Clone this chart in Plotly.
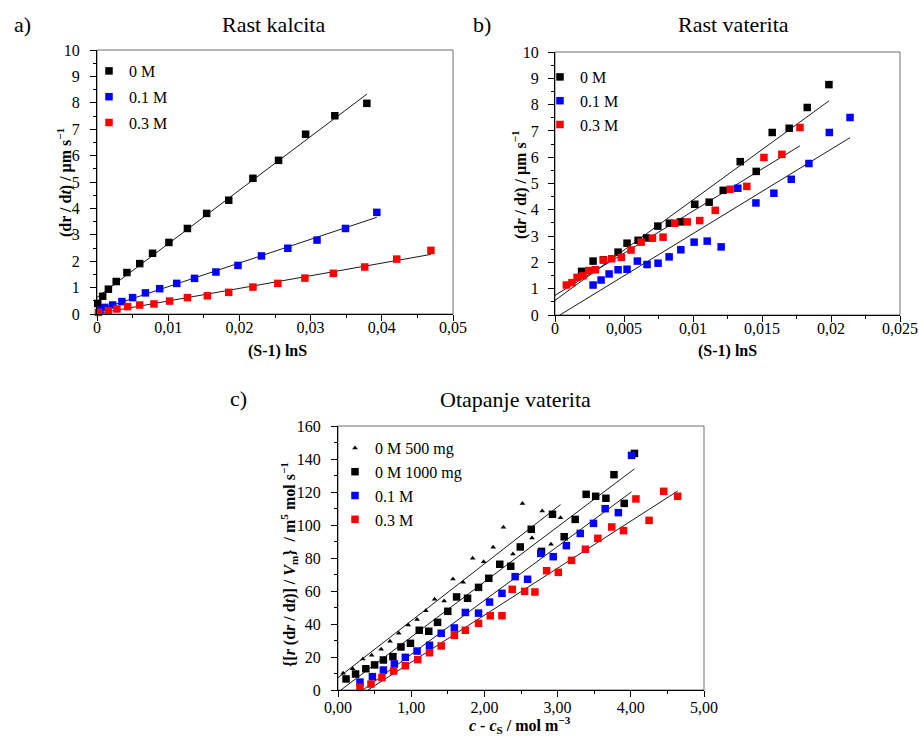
import numpy as np
import plotly.graph_objects as go

FONT = "Liberation Serif"
BLACK, BLUE, RED = "#000000", "#0000FF", "#FF0000"
W, H = 919, 736

# ---------------- Panel a: Rast kalcita ----------------
a_x_0M = [0.0001, 0.0008, 0.0016, 0.0027, 0.0042, 0.0060, 0.0078, 0.0101, 0.0127,
          0.0154, 0.0185, 0.0219, 0.0255, 0.0293, 0.0334, 0.0379]
a_y_0M = [0.40, 0.67, 0.94, 1.23, 1.57, 1.91, 2.30, 2.71, 3.24,
          3.81, 4.31, 5.14, 5.82, 6.81, 7.51, 7.98]
a_x_01M = [0.0004, 0.0011, 0.0022, 0.0035, 0.0050, 0.0068, 0.0088, 0.0112, 0.0137,
           0.0167, 0.0198, 0.0231, 0.0268, 0.0309, 0.0349, 0.0393]
a_y_01M = [0.15, 0.25, 0.34, 0.47, 0.62, 0.80, 0.96, 1.16, 1.35,
           1.59, 1.84, 2.20, 2.49, 2.80, 3.24, 3.85]
a_x_03M = [0.0002, 0.0016, 0.0028, 0.0043, 0.0060, 0.0080, 0.0102, 0.0127, 0.0155,
           0.0185, 0.0219, 0.0254, 0.0292, 0.0332, 0.0376, 0.0421, 0.0469]
a_y_03M = [0.06, 0.13, 0.19, 0.28, 0.34, 0.38, 0.49, 0.62, 0.69,
           0.82, 1.02, 1.16, 1.36, 1.54, 1.78, 2.08, 2.41]
a_xticks = [0, 0.01, 0.02, 0.03, 0.04, 0.05]
a_xticklabels = ["0", "0,01", "0,02", "0,03", "0,04", "0,05"]

# ---------------- Panel b: Rast vaterita ----------------
b_x_0M = [0.00193, 0.00276, 0.0035, 0.00457, 0.00522, 0.00602, 0.00663, 0.00745, 0.00829,
          0.00909, 0.01013, 0.01117, 0.01219, 0.01342, 0.01458, 0.01574, 0.01697, 0.01828, 0.01985]
b_y_0M = [1.66, 2.05, 2.10, 2.39, 2.73, 2.84, 2.93, 3.38, 3.49,
          3.54, 4.21, 4.29, 4.74, 5.83, 5.46, 6.94, 7.10, 7.89, 8.76]
b_x_01M = [0.00276, 0.00334, 0.00392, 0.00457, 0.00522, 0.00597, 0.00667, 0.00747, 0.00827,
           0.00912, 0.01008, 0.01103, 0.01204, 0.01325, 0.01456, 0.01586, 0.01712, 0.0184,
           0.01988, 0.02138]
b_y_01M = [1.14, 1.33, 1.56, 1.72, 1.74, 2.05, 1.92, 1.97, 2.21,
           2.48, 2.77, 2.81, 2.59, 4.82, 4.26, 4.63, 5.16, 5.76,
           6.94, 7.51]
b_x_03M = [0.00082, 0.00123, 0.0016, 0.00203, 0.00244, 0.00293, 0.00353, 0.00411, 0.00481,
           0.00551, 0.00624, 0.00706, 0.00783, 0.00868, 0.00958, 0.01049, 0.01161, 0.01269,
           0.0139, 0.01514, 0.01644, 0.01775]
b_y_03M = [1.14, 1.23, 1.43, 1.49, 1.69, 1.72, 2.09, 2.14, 2.19,
           2.47, 2.77, 2.92, 2.96, 3.49, 3.54, 3.59, 3.98, 4.78,
           4.89, 5.99, 6.11, 7.13]
b_xticks = [0, 0.005, 0.01, 0.015, 0.02, 0.025]
b_xticklabels = ["0", "0,005", "0,01", "0,015", "0,02", "0,025"]
ab_yticks = list(range(0, 11))

# ---------------- Panel c: Otapanje vaterita ----------------
c_x_500 = [0.07, 0.20, 0.34, 0.46, 0.59, 0.71, 0.83, 0.96, 1.08, 1.20, 1.32, 1.45,
           1.57, 1.71, 1.84, 1.99, 2.12, 2.26, 2.39, 2.52, 2.65, 2.79, 2.91, 3.04]
c_y_500 = [10.1, 12.9, 18.8, 21.0, 24.7, 29.5, 34.4, 39.4, 42.8, 48.1, 55.0, 53.9,
           67.3, 65.3, 79.8, 77.8, 86.5, 98.6, 82.4, 113.1, 92.1, 108.5, 88.3, 104.4]
c_x_1000 = [0.11, 0.24, 0.38, 0.50, 0.62, 0.75, 0.86, 0.99, 1.11, 1.24, 1.36, 1.50,
            1.62, 1.77, 1.92, 2.06, 2.21, 2.36, 2.49, 2.64, 2.78, 2.93, 3.09, 3.24,
            3.39, 3.52, 3.66, 3.77, 3.91, 4.05]
c_y_1000 = [6.7, 9.7, 12.9, 15.2, 18.2, 20.2, 26.1, 28.3, 36.2, 35.6, 41.0, 47.7,
            56.4, 55.6, 62.2, 67.7, 76.2, 75.0, 86.7, 97.4, 84.0, 106.5, 92.9, 103.4,
            118.6, 117.4, 116.2, 130.5, 113.1, 143.4]
c_x_01M = [0.30, 0.47, 0.62, 0.77, 0.92, 1.08, 1.25, 1.41, 1.59, 1.74, 1.92, 2.07,
           2.24, 2.42, 2.59, 2.77, 2.94, 3.12, 3.31, 3.49, 3.65, 3.83, 4.01]
c_y_01M = [4.8, 8.1, 12.1, 15.8, 19.8, 23.6, 27.1, 34.4, 37.6, 47.0, 46.6, 53.3,
           58.6, 68.7, 67.1, 82.8, 80.8, 87.5, 94.9, 101.0, 109.9, 107.5, 142.2]
c_x_03M = [0.30, 0.45, 0.60, 0.76, 0.92, 1.09, 1.25, 1.41, 1.59, 1.74, 1.92, 2.08,
           2.24, 2.38, 2.55, 2.69, 2.85, 3.01, 3.19, 3.38, 3.55, 3.74, 3.90, 4.07,
           4.25, 4.45, 4.64]
c_y_03M = [1.6, 3.6, 7.5, 11.5, 14.7, 18.4, 22.6, 26.7, 33.1, 36.2, 40.4, 45.0,
           45.0, 61.0, 59.8, 59.4, 72.3, 71.3, 78.6, 85.3, 91.9, 98.8, 96.6, 115.8,
           102.8, 120.4, 117.4]
c_xticks = [0, 1, 2, 3, 4, 5]
c_xticklabels = ["0,00", "1,00", "2,00", "3,00", "4,00", "5,00"]
c_yticks = list(range(0, 161, 20))

labels_ab = ["0 M", "0.1 M", "0.3 M"]
labels_c = ["0 M 500 mg", "0 M 1000 mg", "0.1 M", "0.3 M"]


def trend(x, y):
    """Least-squares linear trendline, clipped to the visible axes."""
    x = np.asarray(x, float)
    y = np.asarray(y, float)
    m, b = np.polyfit(x, y, 1)
    x0 = max(0.0, -b / m)
    xs = np.array([x0, x.max()])
    return xs, m * xs + b


fig = go.Figure()


def add_series(x, y, name, color, xa, ya, legend, group, symbol="square", size=7.5):
    fig.add_trace(go.Scatter(
        x=x, y=y, mode="markers", name=name, legend=legend, legendgroup=group,
        marker=dict(symbol=symbol, size=size, color=color, line=dict(width=0)),
        xaxis=xa, yaxis=ya, cliponaxis=False))


def add_trend(x, y, xa, ya):
    xs, ys = trend(x, y)
    fig.add_trace(go.Scatter(
        x=xs, y=ys, mode="lines", showlegend=False, hoverinfo="skip",
        line=dict(color="#1a1a1a", width=1), xaxis=xa, yaxis=ya))


# panel a
a_series = [(a_x_0M, a_y_0M), (a_x_01M, a_y_01M), (a_x_03M, a_y_03M)]
for x, y in a_series:
    add_trend(x, y, "x", "y")
for i, ((x, y), lab, col) in enumerate(zip(a_series, labels_ab, [BLACK, BLUE, RED])):
    add_series(x, y, lab, col, "x", "y", "legend", "a%d" % i)

# panel b
b_series = [(b_x_0M, b_y_0M), (b_x_01M, b_y_01M), (b_x_03M, b_y_03M)]
for x, y in b_series:
    add_trend(x, y, "x2", "y2")
for i, ((x, y), lab, col) in enumerate(zip(b_series, labels_ab, [BLACK, BLUE, RED])):
    add_series(x, y, lab, col, "x2", "y2", "legend2", "b%d" % i)

# panel c
c_series = [(c_x_500, c_y_500), (c_x_1000, c_y_1000), (c_x_01M, c_y_01M), (c_x_03M, c_y_03M)]
for x, y in c_series:
    add_trend(x, y, "x3", "y3")
for i, ((x, y), lab, col, sym, sz) in enumerate(zip(
        c_series, labels_c, [BLACK, BLACK, BLUE, RED],
        ["triangle-up", "square", "square", "square"], [5, 7.5, 7.5, 7.5])):
    add_series(x, y, lab, col, "x3", "y3", "legend3", "c%d" % i, symbol=sym, size=sz)


def dx(p0, p1):
    return [p0 / W, p1 / W]


def dy(top, bottom):
    return [1 - bottom / H, 1 - top / H]


tickfont = dict(family=FONT, size=16, color="black")


def axis(domain, rng, tickvals, ticktext, minor_dtick, anchor, standoff):
    return dict(domain=domain, range=rng, tickvals=tickvals, ticktext=ticktext,
                ticks="outside", ticklen=6, tickwidth=1, tickcolor="black",
                minor=dict(ticks="outside", ticklen=3, tickcolor="black", dtick=minor_dtick,
                           showgrid=False),
                showline=True, linecolor="black", linewidth=1, showgrid=False,
                zeroline=False, tickfont=tickfont, anchor=anchor, fixedrange=True,
                automargin=False, ticklabelstandoff=standoff)


panel_a = (97, 453, 50, 314)
panel_b = (555, 900, 52, 315)
panel_c = (338, 704, 426, 690)

layout = dict(
    width=W, height=H, margin=dict(l=0, r=0, t=0, b=0, pad=0, autoexpand=False),
    paper_bgcolor="white", plot_bgcolor="white",
    font=dict(family=FONT, size=16, color="black"),
    xaxis=axis(dx(panel_a[0], panel_a[1]), [0, 0.05], a_xticks, a_xticklabels, 0.005, "y", -7),
    yaxis=axis(dy(panel_a[2], panel_a[3]), [0, 10], ab_yticks, [str(v) for v in ab_yticks], 0.5, "x", 7),
    xaxis2=axis(dx(panel_b[0], panel_b[1]), [0, 0.025], b_xticks, b_xticklabels, 0.0025, "y2", -7),
    yaxis2=axis(dy(panel_b[2], panel_b[3]), [0, 10], ab_yticks, [str(v) for v in ab_yticks], 0.5, "x2", 6),
    xaxis3=axis(dx(panel_c[0], panel_c[1]), [0, 5], c_xticks, c_xticklabels, 0.5, "y3", -3),
    yaxis3=axis(dy(panel_c[2], panel_c[3]), [0, 160], c_yticks, [str(v) for v in c_yticks], 10, "x3", 7),
)

legend_style = dict(xanchor="left", yanchor="top", bgcolor="rgba(0,0,0,0)",
                    font=dict(family=FONT, size=16, color="black"),
                    traceorder="grouped", itemclick=False, itemdoubleclick=False)
layout["legend"] = dict(x=89 / W, y=1 - 54 / H, tracegroupgap=2, **legend_style)
layout["legend2"] = dict(x=540 / W, y=1 - 60 / H, tracegroupgap=0, **legend_style)
layout["legend3"] = dict(x=335 / W, y=1 - 431 / H, tracegroupgap=0, **legend_style)

# frame (grey top/right edges)
shapes = []
for xr, yr in [("x", "y"), ("x2", "y2"), ("x3", "y3")]:
    shapes.append(dict(type="rect", xref=xr + " domain", yref=yr + " domain",
                       x0=0, x1=1, y0=0, y1=1, line=dict(color="#6e6e6e", width=1),
                       layer="below"))
layout["shapes"] = shapes

ann = []


def text(s, xp, yp, size, angle=0):
    ann.append(dict(text=s, x=xp / W, y=1 - yp / H, xref="paper", yref="paper",
                    showarrow=False, xanchor="center", yanchor="middle", textangle=angle,
                    font=dict(family=FONT, size=size, color="black")))


text("Rast kalcita", 273, 25, 22)
text("a)", 22, 24, 22)
text("Rast vaterita", 733, 25, 22)
text("b)", 482, 24, 22)
text("Otapanje vaterita", 515, 399, 22)
text("c)", 238, 398, 22)
text("<b>(dr / d<i>t</i>) / μm s<sup>−1</sup></b>", 65, 182, 16, -90)
text("<b>(d<i>r</i> / d<i>t</i>) / μm s<sup>−1</sup></b>", 520, 185, 16, -90)
text("<b>{[<i>r</i> (d<i>r</i> / d<i>t</i>)] / <i>V</i><sub>m</sub>}  / m<sup>5</sup> mol s<sup>−1</sup></b>",
     289, 565, 16, -90)
text("<b>(S-1) lnS</b>", 277, 351, 16)
text("<b>(S-1) lnS</b>", 727, 351, 16)
text("<b><i>c</i> - <i>c</i><sub>S</sub> / mol m<sup>−3</sup></b>", 520, 725, 16)
layout["annotations"] = ann

fig.update_layout(**layout)
fig.write_html("out.html", config={"displayModeBar": False},
               post_script="document.body.style.margin='0px';document.body.style.padding='0px';")
